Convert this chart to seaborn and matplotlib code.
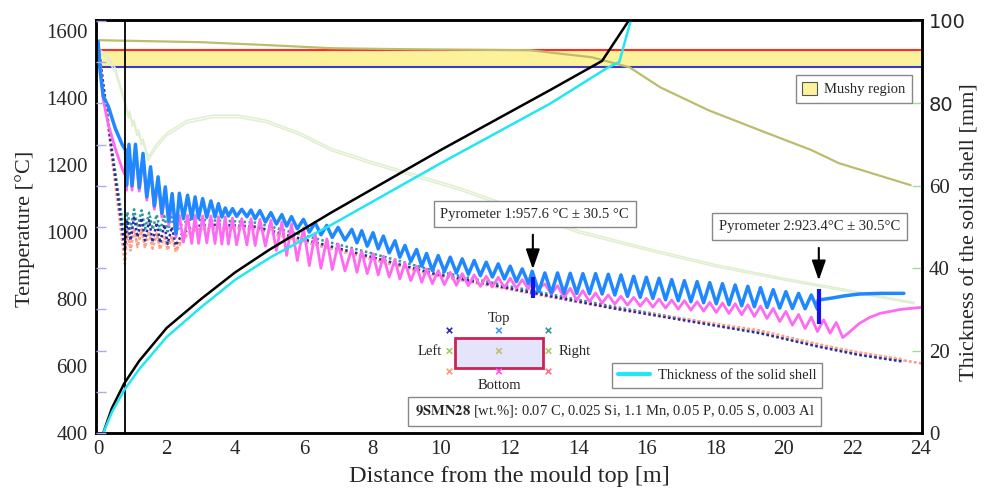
import numpy as np
import seaborn as sns
import matplotlib.pyplot as plt
from matplotlib.patches import Patch, Rectangle
from matplotlib.lines import Line2D

# ---------------- data ----------------
# mushy region [degC]
liquidus = 1545
solidus = 1492
mould_end = 0.78  # m

# centre of top / bottom surface, before the mould exit
pre_x = [0.0, 0.06, 0.15, 0.30, 0.50, 0.70]
top_pre = [1568, 1480, 1405, 1375, 1310, 1262]
bottom_pre = [1570, 1500, 1395, 1320, 1250, 1190]

# peaks and valleys of the surface temperature, zone by zone
osc_x_a = [0.80, 0.83, 0.90, 0.99, 1.09, 1.20, 1.31, 1.42, 1.53, 1.64, 1.75, 1.86, 1.96, 2.06, 2.16, 2.27]
top_a = [1245, 1140, 1262, 1138, 1262, 1132, 1235, 1105, 1195, 1078, 1165, 1056, 1135, 1032, 1115, 995]
bottom_a = [1168, 1125, 1250, 1125, 1250, 1122, 1222, 1095, 1183, 1068, 1152, 1045, 1122, 1020, 1100, 985]

osc_x_b = [2.37, 2.49, 2.61, 2.73, 2.83, 2.93, 3.05, 3.17, 3.29, 3.41, 3.51, 3.61, 3.71, 3.80, 3.92,
           4.04, 4.19, 4.34, 4.46, 4.58, 4.72]
top_b = [1116, 1040, 1110, 1040, 1105, 1042, 1100, 1044, 1093, 1045, 1085, 1045, 1072, 1048, 1070,
         1047, 1068, 1046, 1066, 1040, 1064]
bottom_b = [1050, 970, 1050, 966, 1050, 966, 1048, 968, 1048, 966, 1046, 964, 1045, 964, 1042,
            962, 1040, 962, 1040, 960, 1038]

osc_x_c = [4.88, 5.04, 5.20, 5.36, 5.50, 5.64, 5.81, 5.99, 6.16, 6.33, 6.50, 6.67, 6.83, 7.00, 7.20,
           7.40, 7.55, 7.69, 7.85, 8.02, 8.17, 8.32, 8.49, 8.66, 8.80, 8.95, 9.12, 9.29, 9.44, 9.58, 9.75]
top_c = [1030, 1058, 1024, 1052, 1018, 1046, 1010, 1038, 1000, 1028, 992, 1020, 984, 1014, 976,
         1008, 968, 1004, 958, 998, 950, 988, 938, 974, 925, 960, 912, 948, 898, 936, 885]
bottom_c = [958, 1035, 945, 1030, 930, 1024, 915, 1012, 900, 996, 892, 980, 888, 965, 884,
            950, 880, 942, 876, 935, 872, 928, 866, 918, 860, 908, 855, 898, 850, 890, 846]

osc_x_d = [9.92, 10.10, 10.27, 10.45, 10.62, 10.80, 10.97, 11.15, 11.32, 11.50, 11.67, 11.85,
           12.02, 12.20, 12.37, 12.55, 12.66]
top_d = [930, 882, 925, 878, 920, 874, 915, 870, 910, 866, 905, 860, 898, 852, 890, 846, 883]
bottom_d = [885, 843, 880, 841, 876, 840, 872, 838, 868, 836, 865, 834, 862, 832, 858, 830, 856]

osc_x_e = [12.85, 13.03, 13.22, 13.40, 13.59, 13.77, 13.96, 14.14, 14.33, 14.51, 14.70, 14.88,
           15.07, 15.25, 15.44, 15.62, 15.81, 15.99, 16.18, 16.36, 16.55, 16.73, 16.92, 17.10,
           17.29, 17.47, 17.66, 17.84, 18.03, 18.21, 18.40, 18.58, 18.77, 18.95, 19.14, 19.32,
           19.51, 19.69, 19.88, 20.06, 20.25, 20.43, 20.62, 20.80, 20.98]
top_e = [822, 878, 818, 878, 817, 877, 817, 876, 816, 876, 815, 874, 812, 872, 808, 868, 805, 865,
         802, 862, 798, 858, 795, 855, 792, 852, 789, 849, 786, 846, 783, 842, 780, 838, 777, 834,
         775, 828, 773, 822, 772, 817, 771, 812, 770]
bottom_e = [832, 845, 815, 840, 805, 832, 797, 825, 792, 818, 788, 812, 785, 808, 782, 805, 779, 802,
            776, 800, 773, 797, 770, 795, 767, 792, 764, 790, 760, 788, 757, 786, 753, 783, 748, 779,
            742, 772, 733, 763, 722, 754, 712, 746, 703]

top_tail_x = [21.00, 21.40, 21.80, 22.20, 22.80, 23.50]
top_tail = [797, 803, 810, 815, 817, 817]
bottom_tail_x = [21.16, 21.35, 21.53, 21.72, 21.90, 22.20, 22.50, 22.80, 23.40, 24.00]
bottom_tail = [738, 698, 730, 685, 700, 727, 745, 757, 769, 775]

# corners
corner_x = [0.0, 0.2, 0.4, 0.6, 0.78, 0.85, 0.95, 1.05, 1.15, 1.27, 1.37, 1.49, 1.59, 1.71, 1.81,
            1.93, 2.03, 2.15, 2.27, 2.45, 2.7, 3.0, 3.5, 4.0, 4.6, 6.0, 8.0, 9.75, 12.0, 15.0,
            17.0, 19.3, 21.0, 22.2, 23.5]
top_left = [1560, 1400, 1240, 1090, 945, 1035, 975, 1048, 985, 1042, 975, 1035, 970, 1028, 968,
            1022, 965, 1015, 960, 995, 1012, 1020, 1022, 1020, 1016, 978, 925, 877, 832, 773,
            738, 698, 658, 633, 613]
top_right = [1560, 1405, 1250, 1110, 985, 1060, 1010, 1068, 1015, 1065, 1010, 1058, 1008, 1052, 1005,
             1048, 1002, 1045, 1000, 1025, 1038, 1036, 1034, 1032, 1028, 990, 936, 886, 838, 778,
             742, 700, 660, 635, 615]
bottom_left = [1560, 1395, 1225, 1060, 905, 1000, 945, 1010, 955, 1005, 952, 1000, 950, 995, 948,
               990, 945, 985, 940, 975, 1000, 1008, 1012, 1012, 1008, 970, 918, 872, 828, 772,
               740, 703, 663, 640, 620]
corner_br_x = corner_x[:-1] + [24.0]
bottom_right = [1560, 1398, 1230, 1065, 912, 1005, 950, 1012, 958, 1008, 955, 1002, 952, 998, 950,
                992, 948, 988, 945, 978, 1002, 1010, 1014, 1013, 1010, 972, 920, 874, 830, 774,
                742, 706, 665, 640, 608]

# left / right side centres (faint lines)
side_x = [0.0, 0.25, 0.5, 0.79, 0.88, 0.92, 1.0, 1.05, 1.13, 1.18, 1.26, 1.31, 1.46, 1.7, 2.0,
          2.6, 3.35, 4.1, 4.9, 5.9, 6.8, 8.0, 10.5, 12.0, 14.0, 16.0, 18.0, 20.0, 22.0, 23.8]
left_t = [1548, 1530, 1490, 1390, 1350, 1362, 1325, 1335, 1298, 1306, 1270, 1278, 1224, 1262, 1296,
          1334, 1349, 1349, 1334, 1296, 1250, 1210, 1134, 1080, 1005, 952, 903, 862, 825, 790]
right_t = [1540, 1520, 1478, 1380, 1340, 1352, 1315, 1325, 1288, 1296, 1260, 1268, 1214, 1252, 1288,
           1326, 1342, 1342, 1327, 1289, 1243, 1203, 1127, 1073, 998, 946, 897, 857, 820, 786]

# strand centre
center_x = [0, 3.0, 5.0, 6.8, 9.0, 12.6, 14.4, 15.5, 16.4, 17.8, 19.3, 20.8, 21.6, 23.7]
center_t = [1573, 1567, 1558, 1549, 1546, 1543, 1522, 1492, 1432, 1364, 1304, 1245, 1206, 1140]

# solid shell thickness [mm]
shell_black_x = [0.15, 0.4, 0.76, 1.2, 2.0, 3.0, 4.0, 5.0, 6.0, 6.8, 10.0, 13.2, 14.7, 15.55]
shell_black = [0, 6, 12, 17.5, 25.5, 32.5, 39.0, 44.5, 49.5, 53.5, 68.7, 83.3, 90.3, 101]
shell_cyan_x = [0.15, 0.4, 0.76, 1.2, 2.0, 3.0, 4.0, 5.0, 6.0, 6.8, 10.0, 13.2, 14.85, 15.2, 15.55]
shell_cyan = [0, 5, 10.4, 15.5, 23.3, 30.5, 37.2, 42.5, 47.0, 50.5, 65.5, 80.0, 88.6, 90.0, 100.5]

# pyrometers
pyro_x = [12.68, 21.02]
pyro_lo = [802, 727]
pyro_hi = [867, 830]
pyro_text = ["Pyrometer 1:957.6 °C ± 30.5 °C", "Pyrometer 2:923.4°C ± 30.5°C"]

temp_ticks = [400, 600, 800, 1000, 1200, 1400, 1600]
dist_ticks = list(range(0, 25, 2))
shell_ticks = [0, 20, 40, 60, 80, 100]

# ---------------- plot ----------------
sns.set_theme(style="white")
plt.rcParams["font.family"] = ["Liberation Serif", "DejaVu Sans"]
plt.rcParams["mathtext.fontset"] = "stix"

fig, ax = plt.subplots(figsize=(9.84, 4.9), dpi=100)
fig.subplots_adjust(left=0.0976, right=0.937, bottom=0.1163, top=0.959)
ax2 = ax.twinx()
ax3 = ax.twinx()  # only for the small blue marks on the left spine

ax.axhspan(solidus, liquidus, color="#fbf29b", lw=0, zorder=0)
ax.axhline(liquidus, color="#ff2a2a", lw=1.5, zorder=1)
ax.axhline(solidus, color="#3a3acc", lw=1.5, zorder=1)
ax.axvline(mould_end, color="black", lw=1.3, zorder=6)


def draw(axis, x, y, color, lw, **kw):
    sns.lineplot(x=x, y=y, ax=axis, color=color, lw=lw, estimator=None, sort=False,
                 solid_joinstyle="round", **kw)


draw(ax, side_x, left_t, "#dfefd0", 1.1)
draw(ax, side_x, right_t, "#dfefd0", 1.1)
draw(ax, center_x, center_t, "#bcbc6c", 1.6)

dots = (0, (1, 1))
draw(ax, corner_x, top_right, "#2a9a9a", 1.8, linestyle=dots)
draw(ax, corner_br_x, bottom_right, "#ff8a8a", 1.8, linestyle=dots)
draw(ax, corner_x, bottom_left, "#ffa888", 1.8, linestyle=dots)
draw(ax, corner_x, top_left, "#2a2aa0", 1.8, linestyle=dots)

osc_x = osc_x_a + osc_x_b + osc_x_c + osc_x_d + osc_x_e
bottom_x = pre_x + osc_x + bottom_tail_x
bottom_t = bottom_pre + bottom_a + bottom_b + bottom_c + bottom_d + bottom_e + bottom_tail
top_x = pre_x + osc_x + top_tail_x
top_t = top_pre + top_a + top_b + top_c + top_d + top_e + top_tail
draw(ax, bottom_x, bottom_t, "#ff6af2", 2.0)
draw(ax, top_x, top_t, "#1f88ff", 2.5)
ax.vlines(pyro_x, pyro_lo, pyro_hi, color="#1414ee", lw=3, zorder=5)

draw(ax2, shell_black_x, shell_black, "black", 1.8)
draw(ax2, shell_cyan_x, shell_cyan, "#22e6f2", 1.8)

# axes, ticks, labels
ax.set_xlim(-0.06, 24.03)
ax.set_ylim(400, 1633)
ax2.set_ylim(0, 100.2)
ax3.set_ylim(0, 100.2)

ax.set_xticks(dist_ticks)
ax.set_yticks(temp_ticks)
ax.tick_params(axis="x", direction="in", length=5, width=1, color="#888888", labelsize=15, pad=5)
ax.tick_params(axis="y", length=0, labelsize=15, pad=6)
ax2.set_yticks(shell_ticks, labels=[str(t) for t in shell_ticks])
ax2.tick_params(axis="y", direction="in", length=7, width=1, color="#9edc9e", labelsize=15, pad=5)
for lab in ax2.get_yticklabels():
    if lab.get_text() in ("100", "80"):
        lab.set_fontfamily("DejaVu Sans")
        lab.set_fontsize(14)
ax3.yaxis.tick_left()
ax3.set_yticks(np.arange(0, 101, 10))
ax3.set_yticklabels([])
ax3.tick_params(axis="y", direction="in", length=7, width=1, color="#a8a8ff")
for s in ax3.spines.values():
    s.set_visible(False)
ax3.xaxis.set_visible(False)

for a in (ax, ax2):
    for s in a.spines.values():
        s.set_color("black")
        s.set_linewidth(1.8)

ax.set_xlabel("Distance from the mould top [m]", fontsize=17.5)
ax.set_ylabel("Temperature [°C]", fontsize=16)
ax2.set_ylabel("Thickness of the solid shell [mm]", fontsize=16)
ax.xaxis.set_label_coords(0.5, -0.08)
ax.yaxis.set_label_coords(-0.074, 0.494)
ax2.yaxis.set_label_coords(1.046, 0.487)

# pyrometer callouts
box = dict(boxstyle="square,pad=0.45", fc="white", ec="#888888", lw=1)
ax2.text(0.531, 0.530, pyro_text[0], transform=ax2.transAxes, ha="center", va="center",
         fontsize=10.5, bbox=box, zorder=10)
ax2.text(0.864, 0.500, pyro_text[1], transform=ax2.transAxes, ha="center", va="center",
         fontsize=10.5, bbox=box, zorder=10)
for px, y0, y1 in zip(pyro_x, [0.487, 0.455], [0.390, 0.363]):
    ax2.annotate("", xy=(px, y1), xytext=(px, y0), xycoords=("data", "axes fraction"),
                 textcoords=("data", "axes fraction"),
                 arrowprops=dict(arrowstyle="-|>,head_width=0.35,head_length=1.0",
                                 color="black", lw=1.5))

ax2.text(0.628, 0.053, r"$\mathbf{9SMN28}$ [wt.%]: 0.07 C, 0.025 Si, 1.1 Mn, 0.05 P, 0.05 S, 0.003 Al",
         transform=ax2.transAxes, ha="center", va="center", fontsize=10.5, bbox=box, zorder=10)

leg1 = ax2.legend(handles=[Patch(fc="#fbf29b", ec="#555555", lw=0.8)], labels=["Mushy region"],
                  loc="upper right", bbox_to_anchor=(0.988, 0.867), borderaxespad=0,
                  fontsize=10.5, fancybox=False, edgecolor="#888888", framealpha=1,
                  handlelength=1.0, handleheight=1.0, handletextpad=0.5, borderpad=0.45)
ax2.add_artist(leg1)
ax2.legend(handles=[Line2D([], [], color="#22e6f2", lw=3)], labels=["Thickness of the solid shell"],
           loc="upper right", bbox_to_anchor=(0.879, 0.169), borderaxespad=0, fontsize=10.5,
           fancybox=False, edgecolor="#888888", framealpha=1, handlelength=2.2,
           handletextpad=0.5)

# cross-section sketch with probe positions
ins = fig.add_axes([400 / 984, 1 - 392 / 490, 198 / 984, 82 / 490])
ins.set_xlim(-2, 2)
ins.set_ylim(-2, 2)
ins.axis("off")
ins.add_patch(Rectangle((-0.88, -0.83), 1.76, 1.46, fc="#e4e4fa", ec="#cc2255", lw=2))
probe_col = [-1, 0, 1, -1, 0, 1, -1, 0, 1]
probe_row = [1, 1, 1, 0, 0, 0, -1, -1, -1]
probe_color = ["#3030a8", "#3a9cff", "#2a9a9a", "#a0d060", "#c0c070", "#a0d060",
               "#ff9a78", "#ff55ee", "#ff7088"]
ins.scatter(probe_col, probe_row, marker="x", c=probe_color, s=16, linewidths=1.2)
ins.text(0, 1.6, "Top", ha="center", va="center", fontsize=10.5)
ins.text(0, -1.66, "Bottom", ha="center", va="center", fontsize=10.5)
ins.text(-1.15, 0, "Left", ha="right", va="center", fontsize=10.5)
ins.text(1.2, 0, "Right", ha="left", va="center", fontsize=10.5)

fig.savefig("out.png", dpi=100)
